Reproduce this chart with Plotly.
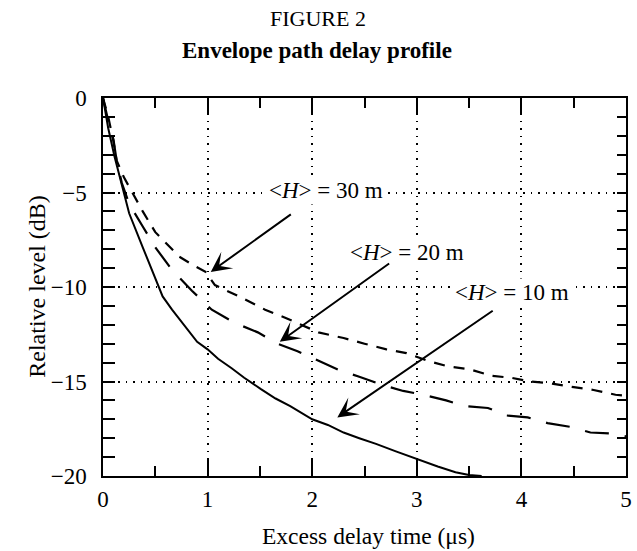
import plotly.graph_objects as go

# ---- data ----
t_10m = [0.0, 0.05, 0.11, 0.16, 0.25, 0.38, 0.5, 0.57, 0.66, 0.8, 0.9, 1.0, 1.1, 1.23,
         1.35, 1.51, 1.65, 1.79, 2.0, 2.15, 2.3, 2.45, 2.61, 2.8, 3.04, 3.2, 3.37, 3.5, 3.62]
db_10m = [0.0, -1.6, -3.1, -4.2, -6.1, -7.9, -9.6, -10.5, -11.2, -12.2, -12.9, -13.3, -13.8, -14.3,
          -14.8, -15.4, -15.9, -16.3, -17.0, -17.3, -17.7, -18.0, -18.3, -18.7, -19.2, -19.5, -19.8, -19.95, -20.0]

t_20m = [0.0, 0.05, 0.1, 0.13, 0.18, 0.25, 0.38, 0.5, 0.66, 0.85, 1.04, 1.26, 1.48, 1.67, 1.86,
         2.06, 2.26, 2.45, 2.68, 2.87, 3.06, 3.28, 3.46, 3.68, 3.86, 4.06, 4.25, 4.47, 4.66, 4.85, 5.0]
db_20m = [0.0, -1.2, -2.2, -3.3, -4.5, -5.6, -6.8, -7.9, -9.1, -10.2, -11.2, -11.9, -12.4, -13.0, -13.4,
          -13.9, -14.4, -14.75, -15.2, -15.5, -15.7, -16.0, -16.3, -16.4, -16.8, -16.9, -17.2, -17.4, -17.7, -17.75, -17.9]

t_30m = [0.0, 0.05, 0.1, 0.13, 0.2, 0.27, 0.38, 0.5, 0.62, 0.73, 0.85, 0.98, 1.07, 1.3, 1.55, 1.73,
         2.06, 2.3, 2.5, 2.71, 2.9, 3.1, 3.3, 3.5, 3.72, 3.9, 4.09, 4.28, 4.5, 4.69, 4.9, 5.0]
db_30m = [0.0, -1.0, -2.3, -3.3, -4.2, -4.9, -6.0, -7.1, -7.8, -8.4, -8.8, -9.2, -9.9, -10.5, -11.2, -11.6,
          -12.4, -12.7, -13.0, -13.3, -13.5, -13.9, -14.2, -14.35, -14.7, -14.8, -15.0, -15.1, -15.3, -15.45, -15.7, -15.75]

labels = ["&lt;<i>H</i>&gt; = 30 m", "&lt;<i>H</i>&gt; = 20 m", "&lt;<i>H</i>&gt; = 10 m"]
label_x = [2.13, 2.91, 3.91]
label_y = [-4.92, -8.15, -10.27]
arrow_tail_x = [1.81, 2.75, 3.74]
arrow_tail_y = [-6.1, -8.7, -11.2]
arrow_head_x = [1.03, 1.69, 2.24]
arrow_head_y = [-9.2, -12.9, -16.9]

x_ticks = [0, 1, 2, 3, 4, 5]
y_ticks = [0, -5, -10, -15, -20]

FONT = "Liberation Serif, Times New Roman, serif"

fig = go.Figure()
fig.add_trace(go.Scatter(x=t_30m, y=db_30m, mode="lines",
                         line=dict(color="black", width=2.2, dash="11px,9px"), showlegend=False))
fig.add_trace(go.Scatter(x=t_20m, y=db_20m, mode="lines",
                         line=dict(color="black", width=2.2, dash="24px,16px"), showlegend=False))
fig.add_trace(go.Scatter(x=t_10m, y=db_10m, mode="lines",
                         line=dict(color="black", width=2), showlegend=False))
# invisible trace for right axis
fig.add_trace(go.Scatter(x=[0], y=[0], yaxis="y2", mode="markers",
                         marker=dict(opacity=0), showlegend=False, hoverinfo="skip"))

for txt, lx, ly in zip(labels, label_x, label_y):
    fig.add_annotation(x=lx, y=ly, text=txt, showarrow=False, xref="x", yref="y",
                       xanchor="center", yanchor="middle",
                       font=dict(family=FONT, size=23, color="black"), bgcolor="white")
for tx, ty, hx, hy in zip(arrow_tail_x, arrow_tail_y, arrow_head_x, arrow_head_y):
    fig.add_annotation(x=hx, y=hy, ax=tx, ay=ty, xref="x", yref="y", axref="x", ayref="y",
                       text="", showarrow=True, arrowhead=3, arrowsize=1.7, arrowwidth=2,
                       arrowcolor="black", standoff=0)

W, H = 637, 551
ml, mr, mt, mb = 103, 5, 98, 75
pw, ph = W - ml - mr, H - mt - mb

def px(xp):
    return (xp - ml) / pw

def py(yp):
    return (H - mb - yp) / ph

def paper_text(xp, yp, text, size, angle=0):
    fig.add_annotation(x=px(xp), y=py(yp), xref="paper", yref="paper", text=text,
                       xanchor="center", yanchor="middle", showarrow=False, textangle=angle,
                       font=dict(family=FONT, size=size, color="black"))

paper_text(320, 18, "FIGURE 2", 22)
paper_text(319, 50, "<b>Envelope path delay profile</b>", 23)
paper_text(372, 536, "Excess delay time (μs)", 23.5)
paper_text(36, 286, "Relative level (dB)", 24, angle=-90)

axis_common = dict(showline=True, linecolor="black", linewidth=1.5, ticks="inside",
                   tickcolor="black", tickwidth=1.5, zeroline=False,
                   tickfont=dict(family=FONT, size=23, color="black"),
                   showgrid=True, gridcolor="black", gridwidth=1.5, griddash="1.5px,6px")

fig.update_layout(
    width=W, height=H, margin=dict(l=ml, r=mr, t=mt, b=mb),
    paper_bgcolor="white", plot_bgcolor="white",
    xaxis=dict(range=[0, 5], tickvals=x_ticks, ticklen=17, mirror="ticks",
               minor=dict(dtick=0.5, ticklen=10, ticks="inside", tickcolor="black", tickwidth=1.5, showgrid=False),
               ticklabelstandoff=2, ticklabeloverflow="allow", **axis_common),
    yaxis=dict(range=[-20, 0], tickvals=y_ticks, ticklen=12,
               minor=dict(dtick=1, ticklen=12, ticks="inside", tickcolor="black", tickwidth=1.5, showgrid=False),
               ticklabelstandoff=10, ticklabeloverflow="allow", **axis_common),
    yaxis2=dict(range=[-20, 0], overlaying="y", side="right", showline=True, linecolor="black", linewidth=1.5,
                ticks="inside", tickvals=y_ticks, ticklen=9, tickcolor="black", tickwidth=1.5,
                showticklabels=False, showgrid=False, zeroline=False,
                minor=dict(dtick=1, ticklen=9, ticks="inside", tickcolor="black", tickwidth=1.5)),
)

fig.write_html("out.html")
